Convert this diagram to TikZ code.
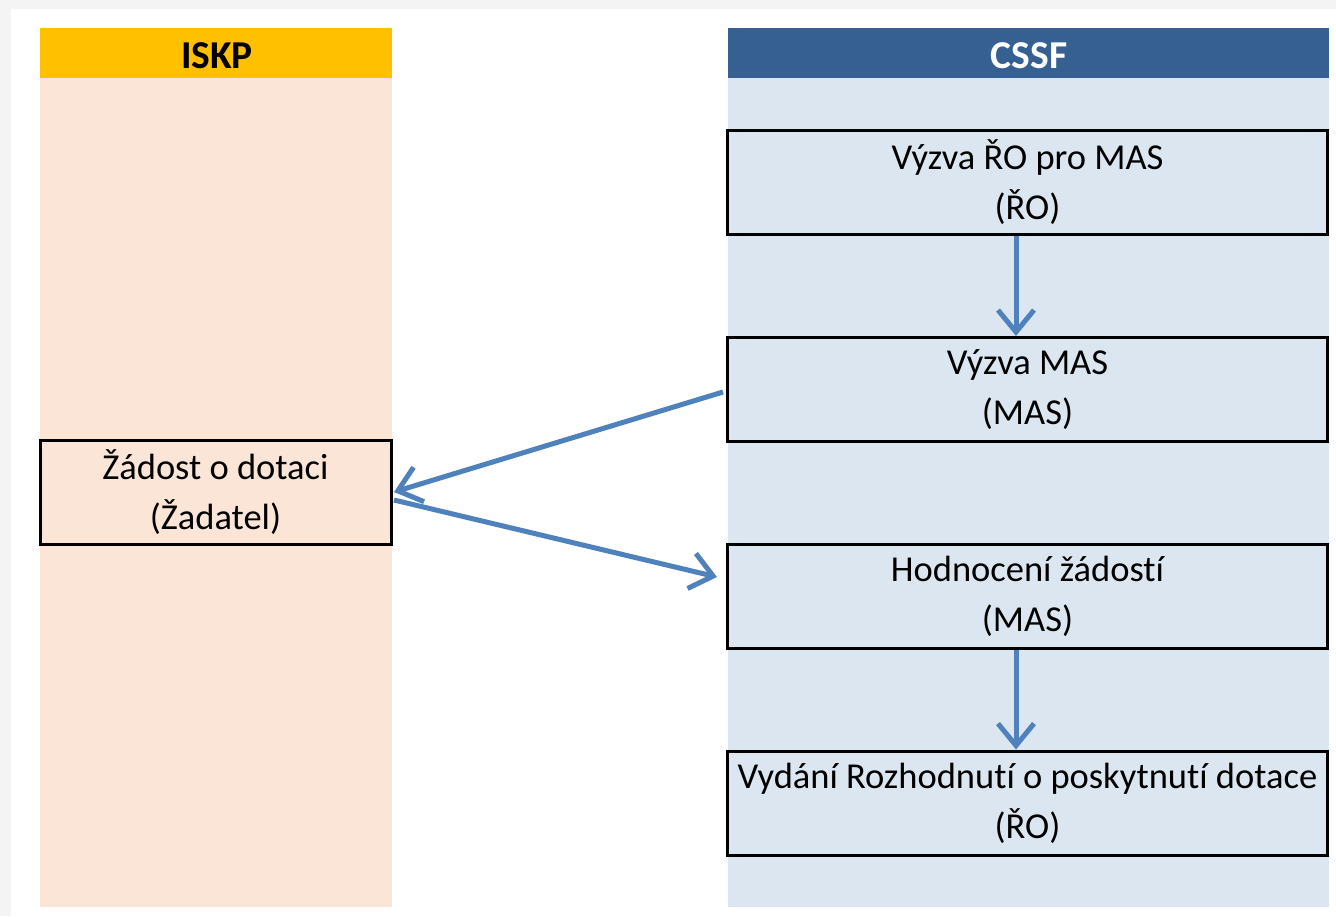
\documentclass[tikz,border=0pt]{standalone}
\usepackage{fontspec}
\setmainfont{Carlito}[Ligatures=NoCommon]
\usetikzlibrary{arrows.meta}
\definecolor{outergray}{HTML}{F4F4F4}
\definecolor{iskphead}{HTML}{FFC000}
\definecolor{iskpbody}{HTML}{FBE5D6}
\definecolor{cssfhead}{HTML}{366092}
\definecolor{cssfbody}{HTML}{DCE6F1}
\definecolor{arrowblue}{HTML}{4F81BD}
\tikzset{
  stepbox/.style={draw=black, line width=3pt, minimum width=600pt, minimum height=104pt,
    align=center, font=\fontsize{36.5}{50}\selectfont, inner sep=0pt},
  headtext/.style={font=\fontsize{39.5}{44}\selectfont\bfseries},
  flow/.style={draw=arrowblue, line width=5pt, -{Straight Barb[length=22pt,width=36pt,line width=5pt]}},
}
\begin{document}
\begin{tikzpicture}[x=1pt,y=-1pt]
\useasboundingbox (0,0) rectangle (1336,916);
\fill[outergray] (0,0) rectangle (1336,916);
\fill[white] (11,9) rectangle (1336,916);
% columns
\fill[iskpbody] (40,78) rectangle (392,907);
\fill[iskphead] (40,28) rectangle (392,78);
\node[headtext, text=black] (iskp) at (217,56) {ISKP};
\fill[cssfbody] (728,78) rectangle (1329,907);
\fill[cssfhead] (728,28) rectangle (1329,78);
\node[headtext, text=white] (cssf) at (1029,56) {CSSF};
% boxes
\node[stepbox] (b1) at (1027.5,182.5) {Výzva ŘO pro MAS\\(ŘO)};
\node[stepbox] (b2) at (1027.5,389.5) {Výzva MAS\\(MAS)};
\node[stepbox] (b3) at (1027.5,596.5) {Hodnocení žádostí\\(MAS)};
\node[stepbox] (b4) at (1027.5,803) {Vydání Rozhodnutí o poskytnutí dotace\\(ŘO)};
\node[stepbox, minimum width=351pt] (z) at (215.5,492.5) {Žádost o dotaci\\(Žadatel)};
% arrows
\coordinate (b2w) at (723,392);
\coordinate (zin) at (394,492);
\coordinate (zout) at (394,500);
\coordinate (b3w) at (717,577);
\draw[flow] (b1.south -| 1016,0) -- (b2.north -| 1016,0);
\draw[flow] (b3.south -| 1016,0) -- (b4.north -| 1016,0);
\draw[flow] (b2w) -- (zin);
\draw[flow] (zout) -- (b3w);
\end{tikzpicture}
\end{document}
